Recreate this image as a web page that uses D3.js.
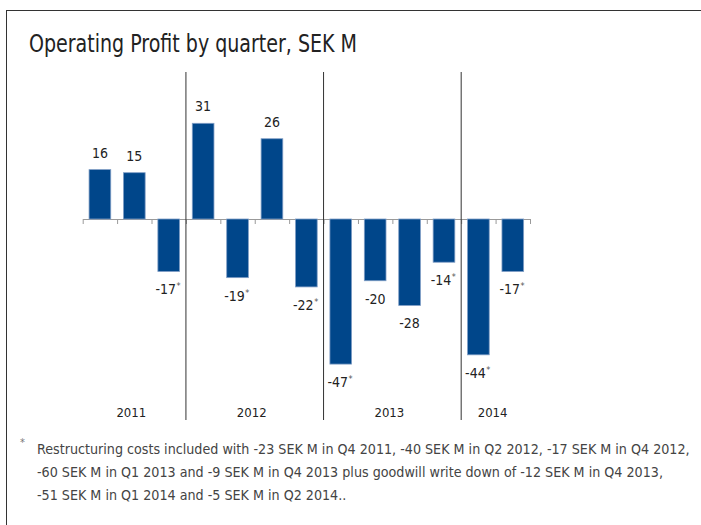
<!DOCTYPE html>
<html>
<head>
<meta charset="utf-8">
<script src="https://cdn.jsdelivr.net/npm/d3@7"></script>
<style>
  body { margin: 0; background: #fff; }
  text { font-family: "Liberation Sans Narrow", "DejaVu Sans Condensed", "Open Sans", sans-serif; }
</style>
</head>
<body>
<div id="chart"></div>
<script>
// data
const quarters = ["Q2 2011", "Q3 2011", "Q4 2011",
                  "Q1 2012", "Q2 2012", "Q3 2012", "Q4 2012",
                  "Q1 2013", "Q2 2013", "Q3 2013", "Q4 2013",
                  "Q1 2014", "Q2 2014"];
const values = [16, 15, -17, 31, -19, 26, -22, -47, -20, -28, -14, -44, -17];
const starred = [false, false, true, false, true, false, true, true, false, false, true, true, true];
const years = ["2011", "2012", "2013", "2014"];
const title = "Operating Profit by quarter, SEK M";
const footnote = [
  "Restructuring costs included with -23 SEK M in Q4 2011, -40 SEK M in Q2 2012, -17 SEK M in Q4 2012,",
  "-60 SEK M in Q1 2013 and -9 SEK M in Q4 2013 plus goodwill write down of -12 SEK M in Q4 2013,",
  "-51 SEK M in Q1 2014 and -5 SEK M in Q2 2014.."
];

const width = 701, height = 525;
const data = quarters.map((q, i) => ({ q, year: q.slice(3), value: values[i], star: starred[i] }));

const svg = d3.select("#chart").append("svg")
  .attr("width", width)
  .attr("height", height);

// frame
svg.append("line").attr("x1", 6).attr("x2", width).attr("y1", 10.5).attr("y2", 10.5)
  .attr("stroke", "#333");
svg.append("line").attr("x1", 6.5).attr("x2", 6.5).attr("y1", 10).attr("y2", height)
  .attr("stroke", "#333");

svg.append("text")
  .attr("x", 29).attr("y", 52)
  .attr("font-size", 24)
  .attr("fill", "#222")
  .attr("textLength", 328)
  .attr("lengthAdjust", "spacingAndGlyphs")
  .text(title);

// scales
const x = d3.scaleBand()
  .domain(quarters)
  .range([82.7, 530])
  .paddingInner(0.37)
  .paddingOuter(0.185);

const y = d3.scaleLinear()
  .domain([-50, 40])
  .range([219 + 50 * 3.087, 219 - 40 * 3.087]);

// band boundaries as an index scale, for ticks and year separators
const idx = d3.scaleLinear().domain([0, quarters.length]).range(x.range());

// axis
const axis = svg.append("g")
  .attr("transform", `translate(0,${y(0)})`)
  .call(d3.axisBottom(idx).tickValues(d3.range(quarters.length + 1)).tickFormat("").tickSize(5).tickSizeOuter(0));
axis.selectAll("line, path").attr("stroke", "#9a9a9a");

// bars
svg.append("g").selectAll("rect")
  .data(data)
  .join("rect")
  .attr("x", d => x(d.q))
  .attr("width", x.bandwidth())
  .attr("y", d => y(Math.max(0, d.value)))
  .attr("height", d => Math.abs(y(d.value) - y(0)))
  .attr("fill", "#00468a")
  .attr("stroke", "#7f9dc5")
  .attr("stroke-width", 0.8);

// value labels, asterisk as its own small text after the number
const labelY = d => d.value >= 0 ? y(d.value) - 12 : y(d.value) + 23;
const labelX = d => x(d.q) + x.bandwidth() / 2 - (d.star ? 3 : 0);

const labels = svg.append("g").selectAll("text")
  .data(data)
  .join("text")
  .attr("x", labelX)
  .attr("y", labelY)
  .attr("text-anchor", "middle")
  .attr("font-size", 14)
  .attr("fill", "#222")
  .text(d => d.value);

const widths = [];
labels.each(function(d, i) { widths[i] = this.getComputedTextLength(); });

svg.append("g").selectAll("text")
  .data(data.map((d, i) => ({ ...d, w: widths[i] })).filter(d => d.star))
  .join("text")
  .attr("x", d => labelX(d) + d.w / 2 + 0.5)
  .attr("y", d => labelY(d) - 5)
  .attr("font-size", 9)
  .attr("fill", "#555")
  .text("*");

// year separators and labels
const groups = years.map(yr => {
  const idxs = data.map((d, i) => d.year === yr ? i : -1).filter(i => i >= 0);
  return { year: yr, start: d3.min(idxs), end: d3.max(idxs) + 1 };
});

svg.append("g").selectAll("line")
  .data(groups.slice(1))
  .join("line")
  .attr("x1", d => idx(d.start)).attr("x2", d => idx(d.start))
  .attr("y1", 72).attr("y2", 420)
  .attr("stroke", "#333");

svg.append("g").selectAll("text")
  .data(groups)
  .join("text")
  .attr("x", d => (idx(d.start) + idx(d.end)) / 2 - 3)
  .attr("y", 417)
  .attr("text-anchor", "middle")
  .attr("font-size", 13)
  .attr("fill", "#222")
  .text(d => d.year);

// footnote
svg.append("text")
  .attr("x", 20).attr("y", 446)
  .attr("font-size", 11)
  .attr("fill", "#777")
  .text("*");

const notes = svg.append("g").selectAll("text")
  .data(footnote)
  .join("text")
  .attr("x", 37)
  .attr("y", (d, i) => 454 + i * 23)
  .attr("font-size", 14.5)
  .attr("fill", "#444")
  .text(d => d);
// shrink the font so the first line ends where the reference's does
const noteSize = 14.5 * 653 / notes.node().getComputedTextLength();
notes.attr("font-size", noteSize);
</script>
</body>
</html>
